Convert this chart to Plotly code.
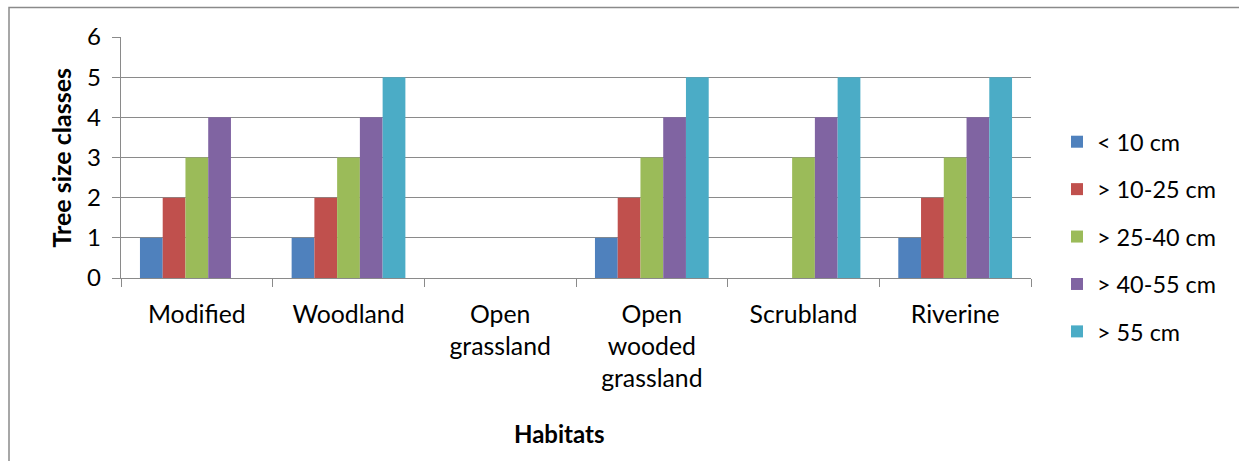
import plotly.graph_objects as go

# Habitats on the x axis and tree-size classes per habitat
habitats = ["Modified", "Woodland", "Open<br>grassland", "Open<br>wooded<br>grassland",
            "Scrubland", "Riverine"]
size_classes = ["< 10 cm", "> 10-25 cm", "> 25-40 cm", "> 40-55 cm", "> 55 cm"]

lt_10 = [1, 1, 0, 1, 0, 1]
c10_25 = [2, 2, 0, 2, 0, 2]
c25_40 = [3, 3, 0, 3, 3, 3]
c40_55 = [4, 4, 0, 4, 4, 4]
gt_55 = [0, 5, 0, 5, 5, 5]

series_values = [lt_10, c10_25, c25_40, c40_55, gt_55]
colors = ["#4F81BD", "#C0504D", "#9BBB59", "#8064A2", "#4BACC6"]

y_ticks = [0, 1, 2, 3, 4, 5, 6]

FONT = "Lato"
GRID = "#8a8a8a"

# plot-area geometry in page pixels
W, H = 1239, 461
L, R, T, B = 121, 1031, 37, 278


def px_x(x):
    return (x - L) / (R - L)


def px_y(y):
    return (B - y) / (B - T)


fig = go.Figure()
for name, vals, col in zip(size_classes, series_values, colors):
    fig.add_trace(go.Bar(
        x=habitats, y=vals, name=name, legendgroup=name,
        marker=dict(color=col, line=dict(width=0)),
    ))

fig.update_layout(
    width=W, height=H,
    margin=dict(l=L, r=W - R, t=T, b=H - B, pad=0),
    paper_bgcolor="white", plot_bgcolor="white",
    barmode="group", bargap=0.25, bargroupgap=0,
    font=dict(family=FONT, color="#000000", size=24),
    showlegend=True,
    legend=dict(
        x=px_x(1057), xanchor="left", y=px_y(120), yanchor="top",
        traceorder="grouped", tracegroupgap=14, maxheight=420,
        font=dict(family=FONT, size=23.4, color="#000000"),
        bgcolor="rgba(0,0,0,0)",
    ),
    xaxis=dict(
        showline=True, linecolor=GRID, linewidth=1.4,
        ticks="outside", ticklen=8, tickcolor=GRID, tickwidth=1.4,
        tickson="boundaries", showgrid=False,
        tickfont=dict(family=FONT, size=24.8),
        ticklabelstandoff=14,
        fixedrange=True,
    ),
    yaxis=dict(
        range=[0, 6], tickvals=y_ticks,
        showline=True, linecolor=GRID, linewidth=1.4,
        ticks="outside", ticklen=8, tickcolor=GRID, tickwidth=1.4,
        showgrid=True, gridcolor=GRID, gridwidth=1.4,
        zeroline=False,
        tickfont=dict(family=FONT, size=24),
        ticklabelstandoff=6,
        fixedrange=True,
    ),
    annotations=[
        dict(text="<b>Tree size classes</b>", textangle=-90, xref="paper", yref="paper",
             x=px_x(60), y=px_y(157.5), xanchor="center", yanchor="middle",
             showarrow=False, font=dict(family=FONT, size=25)),
        dict(text="<b>Habitats</b>", xref="paper", yref="paper",
             x=px_x(559), y=px_y(433), xanchor="center", yanchor="middle",
             showarrow=False, font=dict(family=FONT, size=24)),
    ],
    shapes=[
        # chart-area border
        dict(type="rect", xref="paper", yref="paper",
             x0=px_x(9), x1=px_x(1250), y0=px_y(480), y1=px_y(7.5),
             line=dict(color="#8a8a8a", width=1.5), fillcolor="rgba(0,0,0,0)",
             layer="below"),
    ],
)

fig.write_html("out.html")
